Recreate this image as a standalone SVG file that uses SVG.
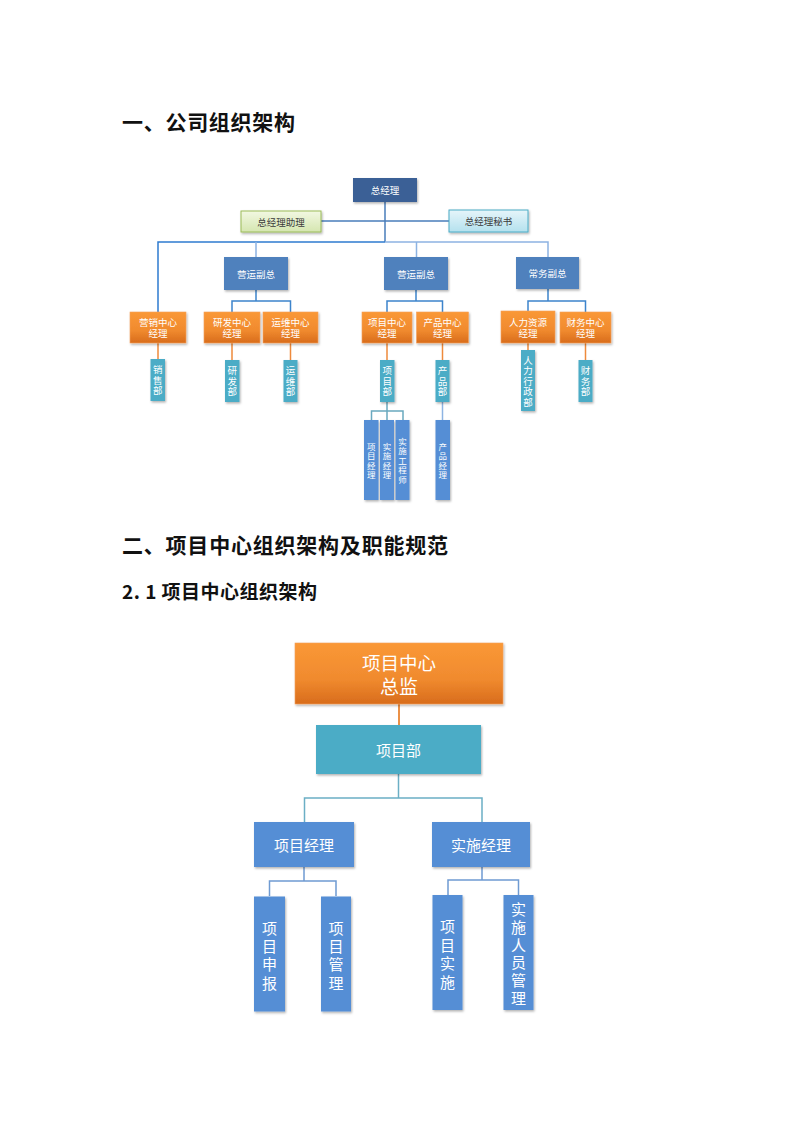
<svg xmlns="http://www.w3.org/2000/svg" width="794" height="1123" viewBox="0 0 794 1123">
<defs>
<filter id="sh" x="-20%" y="-20%" width="140%" height="140%"><feDropShadow dx="1" dy="1.5" stdDeviation="1" flood-color="#000" flood-opacity="0.3"/></filter>
<linearGradient id="og" x1="0" y1="0" x2="0" y2="1"><stop offset="0" stop-color="#FA9836"/><stop offset="0.6" stop-color="#F08A2E"/><stop offset="1" stop-color="#D86C1C"/></linearGradient>
<linearGradient id="gg" x1="0" y1="0" x2="0" y2="1"><stop offset="0" stop-color="#F2F8E2"/><stop offset="1" stop-color="#D5E6B0"/></linearGradient>
<linearGradient id="cg" x1="0" y1="0" x2="0" y2="1"><stop offset="0" stop-color="#E6F5FA"/><stop offset="1" stop-color="#B4E1EE"/></linearGradient>
</defs>
<style>
.title{font-family:"Noto Sans CJK SC","Liberation Serif",serif;font-weight:700;fill:#111}
.t{font-family:"Noto Sans CJK SC","Liberation Sans",sans-serif;fill:#fff;text-anchor:middle;dominant-baseline:central}
.s{font-size:9.5px}
.xs{font-size:8.5px}
.m{font-size:15px}
.dk{fill:#3A3A3A}
.navy{fill:#3B6196;filter:url(#sh)}
.blue{fill:#4F81BD;filter:url(#sh)}
.or{fill:url(#og);stroke:#F5A05A;stroke-width:0.6;filter:url(#sh)}
.teal{fill:#4BACC6;filter:url(#sh)}
.lb{fill:#558ED5;filter:url(#sh)}
.ln{fill:none;stroke-width:1.5}
</style>
<text class="title" x="122" y="130" font-size="21" textLength="173" lengthAdjust="spacing">一、公司组织架构</text>
<text class="title" x="122" y="553" font-size="21" textLength="326" lengthAdjust="spacing">二、项目中心组织架构及职能规范</text>
<text class="title" x="122" y="599" font-size="19" textLength="195" lengthAdjust="spacing">2. 1 项目中心组织架构</text>

<g id="connectors">
<path class="ln" stroke="#4A7EBB" d="M385,202V242M321,221H449"/>
<path class="ln" stroke="#2E7BCF" d="M158,312V242H385"/>
<path class="ln" stroke="#8DB3E2" d="M385,242H548V257M256,242V257M416.5,242V257"/>
<path class="ln" stroke="#3C84CC" d="M256,290V301M232,312V301H290.5V312M416,290V301M387,312V301H442.5V312M548,289V301M528,311V301H585.5V312"/>
<path class="ln" stroke="#EE8A3C" d="M158,343V359M232,343V360M290.5,343V360M387,343V360M442.5,343V360M528,343V350M585.5,343V360"/>
<path class="ln" stroke="#6AA9BF" d="M387,402V420M371.5,420V411H403V420"/>
<path class="ln" stroke="#8EB4E3" d="M442.5,402V420"/>
<path class="ln" stroke="#E46C0A" d="M399,704V725"/>
<path class="ln" stroke="#6BAFC5" d="M398.5,774V798M304.5,822V798H482V822"/>
<path class="ln" stroke="#6F9BD2" d="M304,867V881M269.5,896V881H336V896M482,867V880M448,895V880H518.5V895"/>
</g>

<g id="n_zjl"><rect class="navy" x="353" y="178" width="64" height="24"/><text class="t s" x="385" y="190">总经理</text></g>
<g id="n_zl"><rect x="241" y="211" width="80" height="21" fill="url(#gg)" stroke="#9BBB59" stroke-width="1" filter="url(#sh)"/><text class="t s dk" x="281" y="221.5">总经理助理</text></g>
<g id="n_ms"><rect x="449" y="210" width="79" height="22" fill="url(#cg)" stroke="#4BACC6" stroke-width="1" filter="url(#sh)"/><text class="t s dk" x="488.5" y="221">总经理秘书</text></g>
<g id="n_yy1"><rect class="blue" x="224" y="257" width="64" height="33"/><text class="t s" x="256" y="273.5">营运副总</text></g>
<g id="n_yy2"><rect class="blue" x="384" y="257" width="64" height="33"/><text class="t s" x="416" y="273.5">营运副总</text></g>
<g id="n_cw"><rect class="blue" x="516" y="257" width="63" height="32"/><text class="t s" x="547.5" y="273">常务副总</text></g>

<g id="n_yx"><rect class="or" x="130" y="312" width="56" height="31"/><text class="t s"><tspan x="158" y="322">营销中心</tspan><tspan x="158" y="333">经理</tspan></text></g>
<g id="n_yf"><rect class="or" x="204" y="312" width="56" height="31"/><text class="t s"><tspan x="232" y="322">研发中心</tspan><tspan x="232" y="333">经理</tspan></text></g>
<g id="n_yw"><rect class="or" x="263" y="312" width="55" height="31"/><text class="t s"><tspan x="290.5" y="322">运维中心</tspan><tspan x="290.5" y="333">经理</tspan></text></g>
<g id="n_xm"><rect class="or" x="362" y="312" width="50" height="31"/><text class="t s"><tspan x="387" y="322">项目中心</tspan><tspan x="387" y="333">经理</tspan></text></g>
<g id="n_cp"><rect class="or" x="416.5" y="312" width="52" height="31"/><text class="t s"><tspan x="442.5" y="322">产品中心</tspan><tspan x="442.5" y="333">经理</tspan></text></g>
<g id="n_rl"><rect class="or" x="501" y="311" width="54" height="32"/><text class="t s"><tspan x="528" y="321.5">人力资源</tspan><tspan x="528" y="332.5">经理</tspan></text></g>
<g id="n_cwz"><rect class="or" x="560" y="312" width="51" height="31"/><text class="t s"><tspan x="585.5" y="322">财务中心</tspan><tspan x="585.5" y="333">经理</tspan></text></g>

<g id="n_xs"><rect class="teal" x="150.5" y="359" width="14.5" height="42"/><text class="t s"><tspan x="157.7" y="369">销</tspan><tspan x="157.7" y="379.5">售</tspan><tspan x="157.7" y="390">部</tspan></text></g>
<g id="n_yfb"><rect class="teal" x="225" y="360" width="14.5" height="42"/><text class="t s"><tspan x="232.2" y="370">研</tspan><tspan x="232.2" y="380.5">发</tspan><tspan x="232.2" y="391">部</tspan></text></g>
<g id="n_ywb"><rect class="teal" x="283.5" y="360" width="14" height="42"/><text class="t s"><tspan x="290.5" y="370">运</tspan><tspan x="290.5" y="380.5">维</tspan><tspan x="290.5" y="391">部</tspan></text></g>
<g id="n_xmb"><rect class="teal" x="380" y="360" width="14.5" height="42"/><text class="t s"><tspan x="387.2" y="370">项</tspan><tspan x="387.2" y="380.5">目</tspan><tspan x="387.2" y="391">部</tspan></text></g>
<g id="n_cpb"><rect class="teal" x="435.5" y="360" width="14" height="42"/><text class="t s"><tspan x="442.5" y="370">产</tspan><tspan x="442.5" y="380.5">品</tspan><tspan x="442.5" y="391">部</tspan></text></g>
<g id="n_rlb"><rect class="teal" x="521" y="350" width="14" height="61"/><text class="t s"><tspan x="528" y="359.5">人</tspan><tspan x="528" y="370">力</tspan><tspan x="528" y="380.5">行</tspan><tspan x="528" y="391">政</tspan><tspan x="528" y="401.5">部</tspan></text></g>
<g id="n_cwb"><rect class="teal" x="578.5" y="360" width="14" height="42"/><text class="t s"><tspan x="585.5" y="370">财</tspan><tspan x="585.5" y="380.5">务</tspan><tspan x="585.5" y="391">部</tspan></text></g>

<g id="n_xmjl"><rect class="lb" x="364" y="420" width="14.5" height="80"/><text class="t xs"><tspan x="371.2" y="445.5">项</tspan><tspan x="371.2" y="455">目</tspan><tspan x="371.2" y="464.5">经</tspan><tspan x="371.2" y="474">理</tspan></text></g>
<g id="n_ssjl"><rect class="lb" x="380" y="420" width="14" height="80"/><text class="t xs"><tspan x="387" y="445.5">实</tspan><tspan x="387" y="455">施</tspan><tspan x="387" y="464.5">经</tspan><tspan x="387" y="474">理</tspan></text></g>
<g id="n_ssgcs"><rect class="lb" x="395.5" y="420" width="14" height="80"/><text class="t xs"><tspan x="402.5" y="440.5">实</tspan><tspan x="402.5" y="450">施</tspan><tspan x="402.5" y="459.5">工</tspan><tspan x="402.5" y="469">程</tspan><tspan x="402.5" y="478.5">师</tspan></text></g>
<g id="n_cpjl"><rect class="lb" x="435.5" y="420" width="14.5" height="80"/><text class="t xs"><tspan x="442.7" y="445.5">产</tspan><tspan x="442.7" y="455">品</tspan><tspan x="442.7" y="464.5">经</tspan><tspan x="442.7" y="474">理</tspan></text></g>

<g id="p_zj"><rect class="or" x="295" y="643" width="208" height="61"/><text class="t"><tspan x="399" y="661.5" font-size="18.5">项目中心</tspan><tspan x="399" y="685" font-size="19">总监</tspan></text></g>
<g id="p_xmb"><rect class="teal" x="316" y="725" width="165" height="49"/><text class="t m" x="398.5" y="749.5">项目部</text></g>
<g id="p_xmjl"><rect class="lb" x="254" y="822" width="100" height="45"/><text class="t m" x="304" y="844.5">项目经理</text></g>
<g id="p_ssjl"><rect class="lb" x="432" y="822" width="98" height="45"/><text class="t m" x="481" y="844.5">实施经理</text></g>
<g id="p_xmsb"><rect class="lb" x="254" y="896.5" width="31" height="115"/><text class="t m"><tspan x="269.5" y="926.7">项</tspan><tspan x="269.5" y="945">目</tspan><tspan x="269.5" y="963.3">申</tspan><tspan x="269.5" y="981.7">报</tspan></text></g>
<g id="p_xmgl"><rect class="lb" x="321" y="896.5" width="30" height="115"/><text class="t m"><tspan x="336" y="926.7">项</tspan><tspan x="336" y="945">目</tspan><tspan x="336" y="963.3">管</tspan><tspan x="336" y="981.7">理</tspan></text></g>
<g id="p_xmss"><rect class="lb" x="432.5" y="895" width="30" height="115"/><text class="t m"><tspan x="447.5" y="925">项</tspan><tspan x="447.5" y="943.5">目</tspan><tspan x="447.5" y="962">实</tspan><tspan x="447.5" y="980.5">施</tspan></text></g>
<g id="p_ssry"><rect class="lb" x="503.5" y="895" width="30" height="115"/><text class="t m"><tspan x="518.5" y="908.3">实</tspan><tspan x="518.5" y="926">施</tspan><tspan x="518.5" y="943.7">人</tspan><tspan x="518.5" y="961.4">员</tspan><tspan x="518.5" y="979">管</tspan><tspan x="518.5" y="996.7">理</tspan></text></g>
</svg>
